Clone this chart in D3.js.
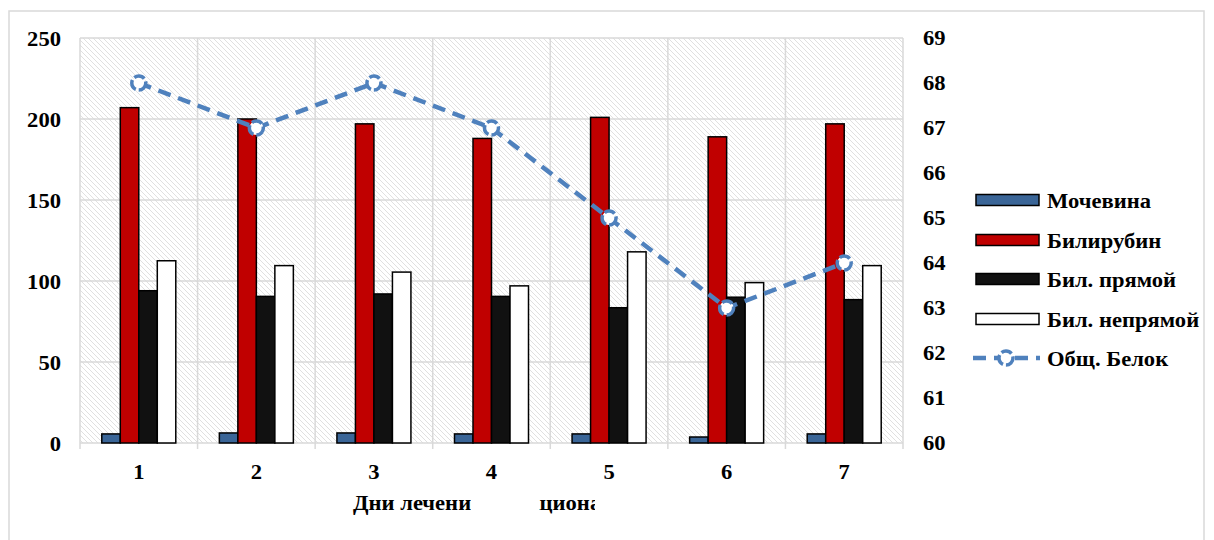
<!DOCTYPE html>
<html><head><meta charset="utf-8">
<script src="https://cdn.jsdelivr.net/npm/d3@7"></script>
<style>body{margin:0;background:#fff}svg{display:block}text{font-family:"Liberation Serif","Times New Roman",serif;font-weight:bold;fill:#000}</style>
</head><body><svg id="c" width="1214" height="540"></svg>
<script>
const categories = ["1","2","3","4","5","6","7"];
const urea = [5.6, 6.2, 6.2, 5.6, 5.6, 3.7, 5.6];
const bilirubin = [207, 200, 197, 188, 201, 189, 197];
const bilDirect = [94, 90.5, 92, 90.5, 83.5, 90, 88.5];
const bilIndirect = [112.5, 109.5, 105.5, 97, 118, 99, 109.5];
const protein = [68, 67, 68, 67, 65, 63, 64];
const leftTicks = [0, 50, 100, 150, 200, 250];
const rightTicks = [60, 61, 62, 63, 64, 65, 66, 67, 68, 69];
const seriesNames = ["Мочевина", "Билирубин", "Бил. прямой", "Бил. непрямой", "Общ. Белок"];
const xTitle = "Дни лечения в стационаре";

const barSeries = [urea, bilirubin, bilDirect, bilIndirect];
const barColors = ["#3a6597", "#c00000", "#111111", "#ffffff"];
const lineColor = "#4f81bd";
const FS = 20, SX = 1.13;

const svg = d3.select("#c");
const L = 80, R = 903, T = 38, B = 443;

function addText(sel, px, py, txt, anchor) {
  return sel.append("text")
    .attr("transform", `translate(${px},${py}) scale(${SX},1)`)
    .attr("dy", "0.35em").attr("text-anchor", anchor || "start")
    .attr("font-size", FS).text(txt);
}

// outer frame
svg.append("rect").attr("x", 9).attr("y", 11).attr("width", 1195).attr("height", 560)
  .attr("fill", "#fff").attr("stroke", "#d9d9d9").attr("stroke-width", 1.5);

const defs = svg.append("defs");
const pat = defs.append("pattern").attr("id", "hatch").attr("patternUnits", "userSpaceOnUse")
  .attr("width", 5).attr("height", 5);
pat.append("rect").attr("width", 5).attr("height", 5).attr("fill", "#fff");
pat.append("path").attr("d", "M-1,-1 L6,6 M-1,4 L1,6 M4,-1 L6,1")
  .attr("stroke", "#e0e0e0").attr("stroke-width", 1);

const x = d3.scaleBand().domain(categories).range([L, R]).paddingInner(0).paddingOuter(0);
const yL = d3.scaleLinear().domain([0, 250]).range([B, T]);
const yR = d3.scaleLinear().domain([60, 69]).range([B, T]);
const inner = d3.scaleBand().domain(d3.range(4)).range([0, 74]);

svg.append("rect").attr("x", L).attr("y", T).attr("width", R - L).attr("height", B - T)
  .attr("fill", "url(#hatch)");

// grid
const g = svg.append("g");
g.selectAll("line.h").data(leftTicks).join("line")
  .attr("x1", L).attr("x2", R).attr("y1", d => yL(d)).attr("y2", d => yL(d))
  .attr("stroke", "#d9d9d9").attr("stroke-width", 1.5);
const bounds = categories.map(c => x(c)).concat([R]);
g.selectAll("line.v").data(bounds).join("line")
  .attr("x1", d => d).attr("x2", d => d).attr("y1", T).attr("y2", B + 6)
  .attr("stroke", "#d9d9d9").attr("stroke-width", 1.5);

// bars
barSeries.forEach((vals, si) => {
  svg.append("g").selectAll("rect").data(vals).join("rect")
    .attr("x", (d, i) => x(categories[i]) + x.bandwidth() / 2 - 37 + inner(si))
    .attr("y", d => yL(d))
    .attr("width", inner.bandwidth())
    .attr("height", d => yL(0) - yL(d))
    .attr("fill", barColors[si]).attr("stroke", "#000").attr("stroke-width", 1.5);
});

// line
const line = d3.line().x((d, i) => x(categories[i]) + x.bandwidth() / 2).y(d => yR(d));
svg.append("path").datum(protein).attr("d", line).attr("fill", "none")
  .attr("stroke", lineColor).attr("stroke-width", 4.5).attr("stroke-dasharray", "13,8");
svg.append("g").selectAll("circle").data(protein).join("circle")
  .attr("cx", (d, i) => x(categories[i]) + x.bandwidth() / 2).attr("cy", d => yR(d))
  .attr("r", 7).attr("fill", "#fff").attr("stroke", lineColor).attr("stroke-width", 3.5)
  .attr("stroke-dasharray", "11,3");

// axes labels
const gl = svg.append("g");
leftTicks.forEach(d => addText(gl, 61, yL(d) + 1, d, "end"));
const gr = svg.append("g");
rightTicks.forEach(d => addText(gr, 923, yR(d), d, "start"));
const gx = svg.append("g");
categories.forEach(d => addText(gx, x(d) + x.bandwidth() / 2, 472, d, "middle"));

// x title (partly hidden as in reference)
const cp = defs.append("clipPath").attr("id", "tclip");
cp.append("rect").attr("x", 340).attr("y", 480).attr("width", 131).attr("height", 50);
cp.append("rect").attr("x", 539).attr("y", 480).attr("width", 56).attr("height", 50);
const tg = svg.append("g").attr("clip-path", "url(#tclip)");
addText(tg, 353, 503, xTitle, "start");

// legend
const lg = svg.append("g");
const ly = [200, 240, 279, 319, 358];
seriesNames.forEach((n, i) => {
  if (i < 4) {
    lg.append("rect").attr("x", 976).attr("y", ly[i] - 5.5).attr("width", 63).attr("height", 11)
      .attr("fill", barColors[i]).attr("stroke", "#000").attr("stroke-width", 1.5);
  } else {
    lg.append("line").attr("x1", 973).attr("x2", 1040).attr("y1", ly[i]).attr("y2", ly[i])
      .attr("stroke", lineColor).attr("stroke-width", 4.5).attr("stroke-dasharray", "13,8");
    lg.append("circle").attr("cx", 1006).attr("cy", ly[i]).attr("r", 7).attr("fill", "#fff")
      .attr("stroke", lineColor).attr("stroke-width", 3.5).attr("stroke-dasharray", "11,3");
  }
  addText(lg, 1047, ly[i] + 1, n, "start");
});
</script></body></html>
